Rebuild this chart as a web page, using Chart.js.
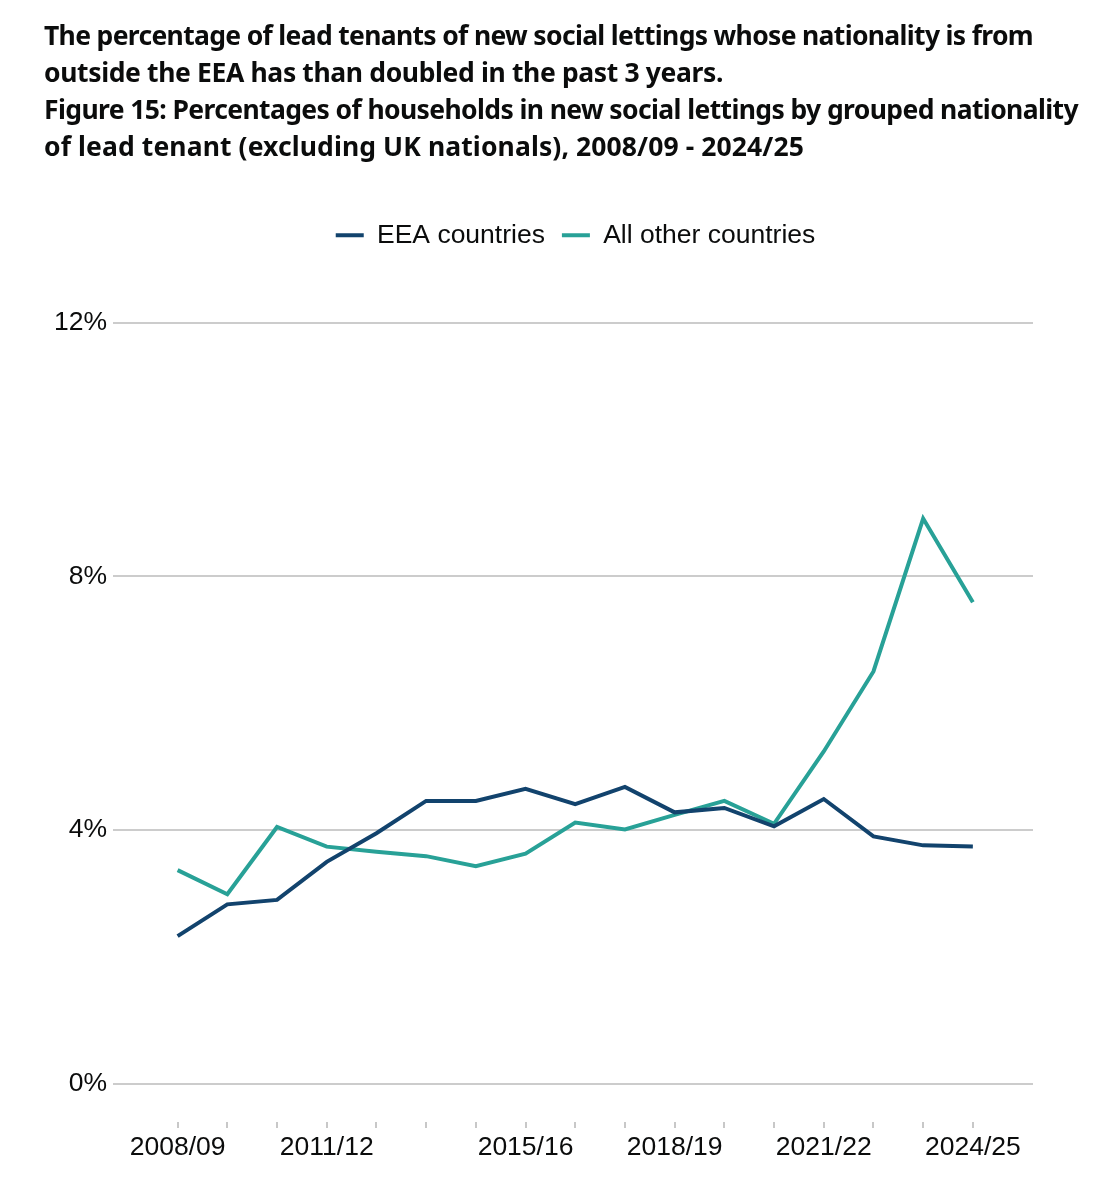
<!DOCTYPE html>
<html>
<head>
<meta charset="utf-8">
<script src="https://cdn.jsdelivr.net/npm/chart.js@4.4.1/dist/chart.umd.min.js"></script>
<style>
  html, body { margin: 0; padding: 0; background: #fff; }
  #wrap { position: relative; width: 1111px; height: 1200px; }
  #title {
    position: absolute; left: 44px; top: 17px;
    font-family: "Noto Sans", Roboto, sans-serif; font-weight: 700;
    font-size: 26.5px; line-height: 37px; color: #0b0c0c; white-space: nowrap;
  }
  #title span { display: block; width: max-content; }
  #chart { position: absolute; left: 0; top: 0; }
</style>
</head>
<body>
<div id="wrap">
  <canvas id="chart" width="1111" height="1200"></canvas>
  <div id="title"><span data-w="989">The percentage of lead tenants of new social lettings whose nationality is from</span><span data-w="679">outside the EEA has than doubled in the past 3 years.</span><span data-w="1034">Figure 15: Percentages of households in new social lettings by grouped nationality</span><span data-w="760">of lead tenant (excluding UK nationals), 2008/09 - 2024/25</span></div>
</div>
<script>
const categories = ["2008/09","2009/10","2010/11","2011/12","2012/13","2013/14","2014/15","2015/16","2016/17","2017/18","2018/19","2019/20","2020/21","2021/22","2022/23","2023/24","2024/25"];
const shownLabels = ["2008/09","2011/12","2015/16","2018/19","2021/22","2024/25"];
const eeaValues = [2.33, 2.83, 2.90, 3.50, 3.95, 4.46, 4.46, 4.65, 4.41, 4.68, 4.28, 4.35, 4.06, 4.49, 3.90, 3.76, 3.74];
const otherValues = [3.37, 2.99, 4.05, 3.74, 3.66, 3.59, 3.43, 3.63, 4.12, 4.01, 4.24, 4.46, 4.10, 5.24, 6.50, 8.91, 7.59];
const yTickValues = [0, 4, 8, 12];

// fit title lines to the reference widths
document.querySelectorAll('#title span').forEach(sp => {
  const target = +sp.dataset.w;
  const w = sp.getBoundingClientRect().width;
  const n = sp.textContent.length;
  sp.style.letterSpacing = ((target - w) / n) + 'px';
});

const toPoints = arr => arr.map((v, i) => ({ x: i, y: v }));
const font = { family: "'Liberation Sans', Arial, sans-serif", size: 26.5 };

const legendTweak = {
  id: 'legendTweak',
  afterInit(chart) {
    const lg = chart.legend;
    const origFit = lg.fit.bind(lg);
    lg.fit = function () { origFit(); this.height += 64; };
    const origDraw = lg.draw.bind(lg);
    lg.draw = function () {
      const ctx = this.ctx;
      ctx.save();
      ctx.translate(59, 0);
      origDraw();
      ctx.restore();
    };
  }
};

new Chart(document.getElementById('chart'), {
  type: 'line',
  data: {
    datasets: [
      { label: 'EEA countries', data: toPoints(eeaValues), borderColor: '#12436D', backgroundColor: '#12436D', borderWidth: 4, pointRadius: 0, tension: 0 },
      { label: 'All other countries', data: toPoints(otherValues), borderColor: '#28A197', backgroundColor: '#28A197', borderWidth: 4, pointRadius: 0, tension: 0 }
    ]
  },
  plugins: [legendTweak],
  options: {
    responsive: false,
    animation: false,
    layout: { padding: { top: 205, right: 78, bottom: 0, left: 0 } },
    plugins: {
      legend: {
        position: 'top',
        labels: {
          font: font, color: '#0b0c0c', boxWidth: 28, boxHeight: 4, padding: 17,
          generateLabels: chart => Chart.defaults.plugins.legend.labels.generateLabels(chart).map(l => Object.assign(l, { lineWidth: 0 }))
        }
      },
      tooltip: { enabled: false }
    },
    scales: {
      x: {
        type: 'linear',
        min: -1.3,
        max: 17.21,
        afterBuildTicks: s => { s.ticks = categories.map((c, i) => ({ value: i })); },
        afterFit: s => { s.height = 78; },
        ticks: {
          autoSkip: false, maxRotation: 0, minRotation: 0, padding: 4,
          font: font, color: '#0b0c0c',
          callback: v => { const c = categories[v]; return shownLabels.includes(c) ? c : ''; }
        },
        grid: { display: true, drawOnChartArea: false, drawTicks: true, tickLength: 6, color: '#c8c8c8', lineWidth: 2 },
        border: { display: false }
      },
      y: {
        min: -0.6,
        max: 12,
        afterBuildTicks: s => { s.ticks = yTickValues.map(v => ({ value: v })); },
        afterFit: s => { s.width = 113; },
        ticks: { font: font, color: '#0b0c0c', padding: 6, callback: v => v + '%' },
        grid: { color: '#cccccc', lineWidth: 2, drawTicks: false },
        border: { display: false }
      }
    }
  }
});
</script>
</body>
</html>
